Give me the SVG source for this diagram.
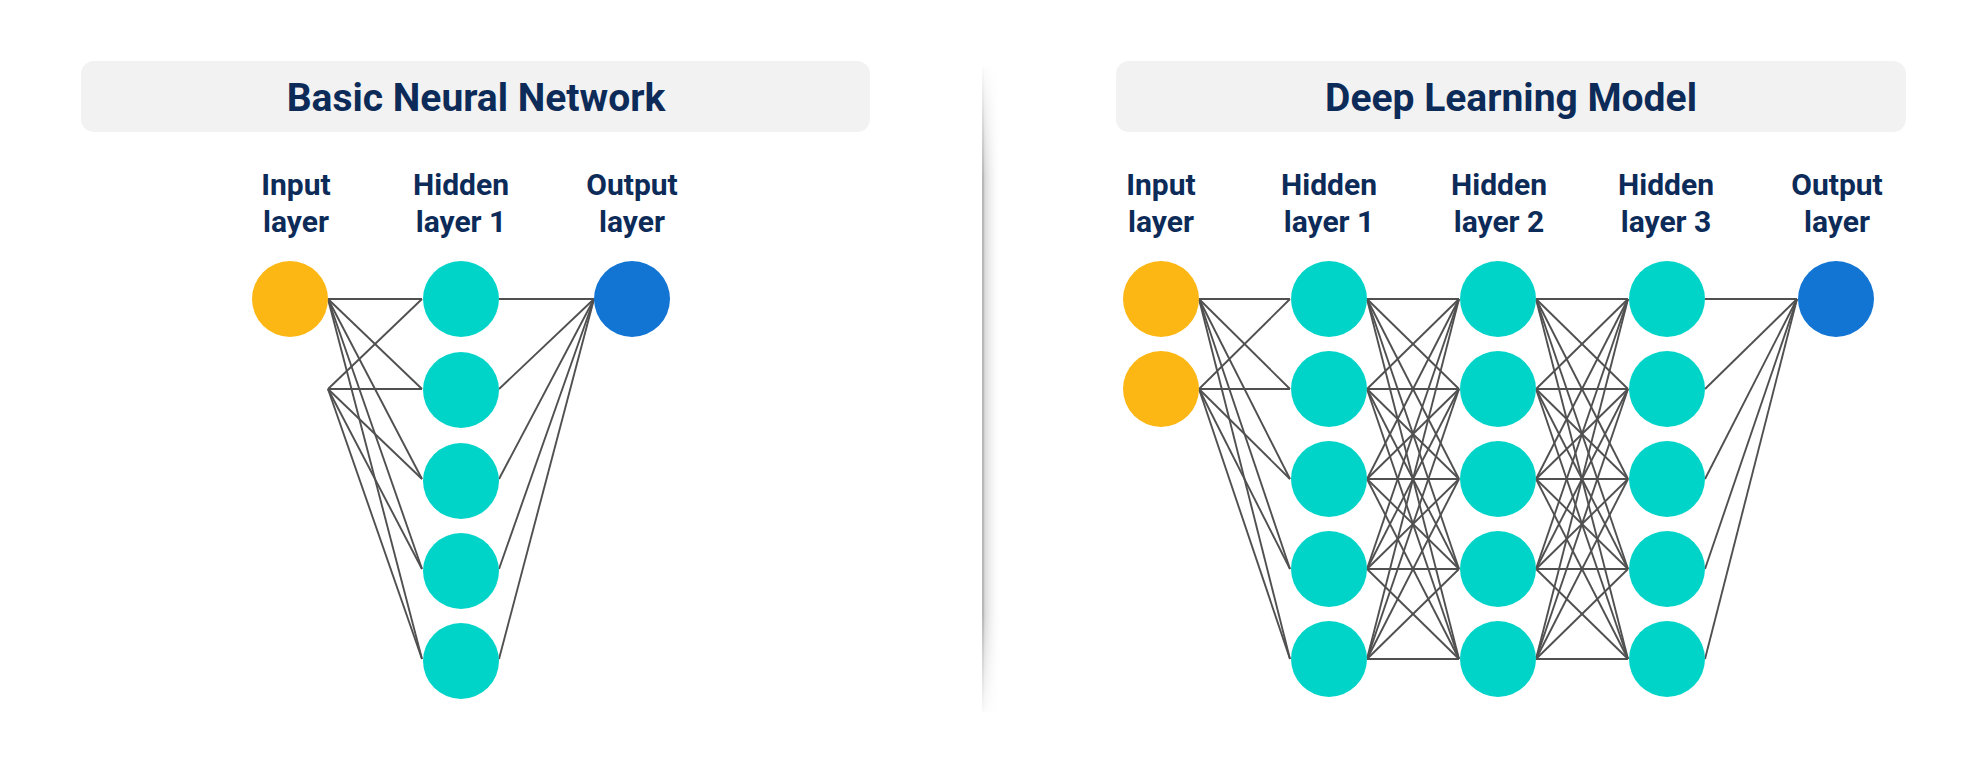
<svg xmlns="http://www.w3.org/2000/svg" width="1980" height="783" viewBox="0 0 1980 783">
<defs>
<style>
.title{font-family:Roboto,"Liberation Sans",sans-serif;font-weight:700;font-size:39px;fill:#0D2B58;text-anchor:middle}
.lbl{font-family:Roboto,"Liberation Sans",sans-serif;font-weight:700;font-size:30px;fill:#0D2B58;text-anchor:middle}
.box{fill:#F2F2F2}
.in{fill:#FCB714}
.hid{fill:#00D4C8}
.out{fill:#1275D3}
.conn line{stroke:#505050;stroke-width:1.9}
</style>
<linearGradient id="divV" x1="0" y1="0" x2="0" y2="1">
<stop offset="0" stop-color="#ffffff" stop-opacity="0"/>
<stop offset="0.18" stop-color="#ffffff" stop-opacity="1"/>
<stop offset="0.84" stop-color="#ffffff" stop-opacity="1"/>
<stop offset="1" stop-color="#ffffff" stop-opacity="0"/>
</linearGradient>
<linearGradient id="shadowH" x1="0" y1="0" x2="1" y2="0">
<stop offset="0" stop-color="#d0d0d0" stop-opacity="0.9"/>
<stop offset="1" stop-color="#ffffff" stop-opacity="0"/>
</linearGradient>
<mask id="fadeMask">
<rect x="975" y="60" width="40" height="660" fill="url(#divV)"/>
</mask>
</defs>
<rect width="1980" height="783" fill="#FFFFFF"/>

<g id="divider">
<g mask="url(#fadeMask)">
<rect x="982" y="66" width="2.5" height="646" fill="#b8b8b8"/>
<rect x="984" y="66" width="17" height="646" fill="url(#shadowH)"/>
</g>
</g>

<g id="title-basic">
<rect class="box" x="81" y="61" width="789" height="71" rx="13"/>
<text class="title" x="476" y="111">Basic Neural Network</text>
</g>
<g id="title-deep">
<rect class="box" x="1116" y="61" width="790" height="71" rx="13"/>
<text class="title" x="1511" y="111">Deep Learning Model</text>
</g>

<g id="labels-basic">
<text class="lbl" x="296" y="195">Input</text>
<text class="lbl" x="296" y="232">layer</text>
<text class="lbl" x="461" y="195">Hidden</text>
<text class="lbl" x="461" y="232">layer 1</text>
<text class="lbl" x="632" y="195">Output</text>
<text class="lbl" x="632" y="232">layer</text>
</g>
<g id="labels-deep">
<text class="lbl" x="1161" y="195">Input</text>
<text class="lbl" x="1161" y="232">layer</text>
<text class="lbl" x="1329" y="195">Hidden</text>
<text class="lbl" x="1329" y="232">layer 1</text>
<text class="lbl" x="1499" y="195">Hidden</text>
<text class="lbl" x="1499" y="232">layer 2</text>
<text class="lbl" x="1666" y="195">Hidden</text>
<text class="lbl" x="1666" y="232">layer 3</text>
<text class="lbl" x="1837" y="195">Output</text>
<text class="lbl" x="1837" y="232">layer</text>
</g>

<g id="connectors" class="conn">
<line x1="328" y1="299" x2="422" y2="299"/>
<line x1="328" y1="299" x2="422" y2="389"/>
<line x1="328" y1="299" x2="422" y2="479"/>
<line x1="328" y1="299" x2="422" y2="569"/>
<line x1="328" y1="299" x2="422" y2="659"/>
<line x1="328" y1="389" x2="422" y2="299"/>
<line x1="328" y1="389" x2="422" y2="389"/>
<line x1="328" y1="389" x2="422" y2="479"/>
<line x1="328" y1="389" x2="422" y2="569"/>
<line x1="328" y1="389" x2="422" y2="659"/>
<line x1="499" y1="299" x2="594" y2="299"/>
<line x1="499" y1="389" x2="594" y2="299"/>
<line x1="499" y1="479" x2="594" y2="299"/>
<line x1="499" y1="569" x2="594" y2="299"/>
<line x1="499" y1="659" x2="594" y2="299"/>
<line x1="1199" y1="299" x2="1290" y2="299"/>
<line x1="1199" y1="299" x2="1290" y2="389"/>
<line x1="1199" y1="299" x2="1290" y2="479"/>
<line x1="1199" y1="299" x2="1290" y2="569"/>
<line x1="1199" y1="299" x2="1290" y2="659"/>
<line x1="1199" y1="389" x2="1290" y2="299"/>
<line x1="1199" y1="389" x2="1290" y2="389"/>
<line x1="1199" y1="389" x2="1290" y2="479"/>
<line x1="1199" y1="389" x2="1290" y2="569"/>
<line x1="1199" y1="389" x2="1290" y2="659"/>
<line x1="1367" y1="299" x2="1459" y2="299"/>
<line x1="1367" y1="299" x2="1459" y2="389"/>
<line x1="1367" y1="299" x2="1459" y2="479"/>
<line x1="1367" y1="299" x2="1459" y2="569"/>
<line x1="1367" y1="299" x2="1459" y2="659"/>
<line x1="1367" y1="389" x2="1459" y2="299"/>
<line x1="1367" y1="389" x2="1459" y2="389"/>
<line x1="1367" y1="389" x2="1459" y2="479"/>
<line x1="1367" y1="389" x2="1459" y2="569"/>
<line x1="1367" y1="389" x2="1459" y2="659"/>
<line x1="1367" y1="479" x2="1459" y2="299"/>
<line x1="1367" y1="479" x2="1459" y2="389"/>
<line x1="1367" y1="479" x2="1459" y2="479"/>
<line x1="1367" y1="479" x2="1459" y2="569"/>
<line x1="1367" y1="479" x2="1459" y2="659"/>
<line x1="1367" y1="569" x2="1459" y2="299"/>
<line x1="1367" y1="569" x2="1459" y2="389"/>
<line x1="1367" y1="569" x2="1459" y2="479"/>
<line x1="1367" y1="569" x2="1459" y2="569"/>
<line x1="1367" y1="569" x2="1459" y2="659"/>
<line x1="1367" y1="659" x2="1459" y2="299"/>
<line x1="1367" y1="659" x2="1459" y2="389"/>
<line x1="1367" y1="659" x2="1459" y2="479"/>
<line x1="1367" y1="659" x2="1459" y2="569"/>
<line x1="1367" y1="659" x2="1459" y2="659"/>
<line x1="1536" y1="299" x2="1628" y2="299"/>
<line x1="1536" y1="299" x2="1628" y2="389"/>
<line x1="1536" y1="299" x2="1628" y2="479"/>
<line x1="1536" y1="299" x2="1628" y2="569"/>
<line x1="1536" y1="299" x2="1628" y2="659"/>
<line x1="1536" y1="389" x2="1628" y2="299"/>
<line x1="1536" y1="389" x2="1628" y2="389"/>
<line x1="1536" y1="389" x2="1628" y2="479"/>
<line x1="1536" y1="389" x2="1628" y2="569"/>
<line x1="1536" y1="389" x2="1628" y2="659"/>
<line x1="1536" y1="479" x2="1628" y2="299"/>
<line x1="1536" y1="479" x2="1628" y2="389"/>
<line x1="1536" y1="479" x2="1628" y2="479"/>
<line x1="1536" y1="479" x2="1628" y2="569"/>
<line x1="1536" y1="479" x2="1628" y2="659"/>
<line x1="1536" y1="569" x2="1628" y2="299"/>
<line x1="1536" y1="569" x2="1628" y2="389"/>
<line x1="1536" y1="569" x2="1628" y2="479"/>
<line x1="1536" y1="569" x2="1628" y2="569"/>
<line x1="1536" y1="569" x2="1628" y2="659"/>
<line x1="1536" y1="659" x2="1628" y2="299"/>
<line x1="1536" y1="659" x2="1628" y2="389"/>
<line x1="1536" y1="659" x2="1628" y2="479"/>
<line x1="1536" y1="659" x2="1628" y2="569"/>
<line x1="1536" y1="659" x2="1628" y2="659"/>
<line x1="1705" y1="299" x2="1797" y2="299"/>
<line x1="1705" y1="389" x2="1797" y2="299"/>
<line x1="1705" y1="479" x2="1797" y2="299"/>
<line x1="1705" y1="569" x2="1797" y2="299"/>
<line x1="1705" y1="659" x2="1797" y2="299"/>
</g>

<g id="basic-input-1"><circle class="in" cx="290" cy="299" r="38"/></g>
<g id="basic-hidden-1"><circle class="hid" cx="461" cy="299" r="38"/></g>
<g id="basic-hidden-2"><circle class="hid" cx="461" cy="390" r="38"/></g>
<g id="basic-hidden-3"><circle class="hid" cx="461" cy="481" r="38"/></g>
<g id="basic-hidden-4"><circle class="hid" cx="461" cy="571" r="38"/></g>
<g id="basic-hidden-5"><circle class="hid" cx="461" cy="661" r="38"/></g>
<g id="basic-output-1"><circle class="out" cx="632" cy="299" r="38"/></g>

<g id="deep-input-1"><circle class="in" cx="1161" cy="299" r="38"/></g>
<g id="deep-input-2"><circle class="in" cx="1161" cy="389" r="38"/></g>
<g id="deep-h1-1"><circle class="hid" cx="1329" cy="299" r="38"/></g>
<g id="deep-h1-2"><circle class="hid" cx="1329" cy="389" r="38"/></g>
<g id="deep-h1-3"><circle class="hid" cx="1329" cy="479" r="38"/></g>
<g id="deep-h1-4"><circle class="hid" cx="1329" cy="569" r="38"/></g>
<g id="deep-h1-5"><circle class="hid" cx="1329" cy="659" r="38"/></g>
<g id="deep-h2-1"><circle class="hid" cx="1498" cy="299" r="38"/></g>
<g id="deep-h2-2"><circle class="hid" cx="1498" cy="389" r="38"/></g>
<g id="deep-h2-3"><circle class="hid" cx="1498" cy="479" r="38"/></g>
<g id="deep-h2-4"><circle class="hid" cx="1498" cy="569" r="38"/></g>
<g id="deep-h2-5"><circle class="hid" cx="1498" cy="659" r="38"/></g>
<g id="deep-h3-1"><circle class="hid" cx="1667" cy="299" r="38"/></g>
<g id="deep-h3-2"><circle class="hid" cx="1667" cy="389" r="38"/></g>
<g id="deep-h3-3"><circle class="hid" cx="1667" cy="479" r="38"/></g>
<g id="deep-h3-4"><circle class="hid" cx="1667" cy="569" r="38"/></g>
<g id="deep-h3-5"><circle class="hid" cx="1667" cy="659" r="38"/></g>
<g id="deep-output-1"><circle class="out" cx="1836" cy="299" r="38"/></g>
</svg>
